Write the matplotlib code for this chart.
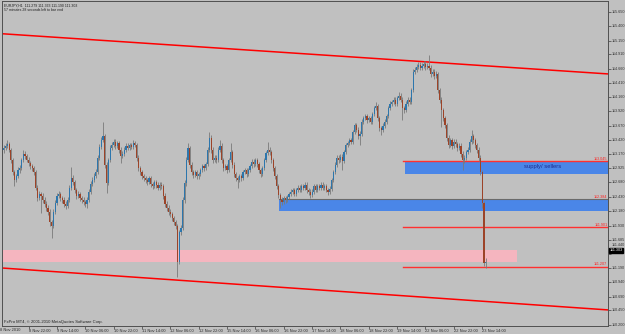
import numpy as np
import matplotlib.pyplot as plt
from matplotlib.patches import Rectangle

plt.rcParams['font.family'] = ['Liberation Sans', 'DejaVu Sans']

# EURJPY H1 bars, 8 Nov - 23 Nov 2010
closes = [113.28, 113.32, 113.35, 113.25, 113.07, 112.86, 112.72, 112.79, 112.90, 112.93,
          113.07, 113.18, 113.14, 113.07, 113.02, 112.97, 112.93, 112.86, 112.59, 112.41,
          112.48, 112.45, 112.38, 112.31, 112.24, 112.17, 111.99, 111.92, 112.17, 112.32,
          112.45, 112.48, 112.41, 112.38, 112.31, 112.27, 112.38, 112.59, 112.76, 112.69,
          112.55, 112.45, 112.48, 112.41, 112.38, 112.34, 112.31, 112.38, 112.52, 112.65,
          112.72, 112.79, 112.86, 113.11, 113.30, 113.42, 113.49, 112.99, 112.67, 113.07,
          113.28, 113.33, 113.39, 113.32, 113.37, 113.25, 113.14, 113.18, 113.25, 113.32,
          113.28, 113.33, 113.30, 113.37, 113.33, 113.11, 112.93, 112.86, 112.79, 112.76,
          112.72, 112.69, 112.76, 112.65, 112.62, 112.69, 112.64, 112.59, 112.64, 112.62,
          112.45, 112.31, 112.24, 112.17, 112.13, 112.06, 111.99, 111.92, 111.30, 111.82,
          111.89, 112.38, 112.67, 113.07, 113.28, 112.99, 112.86, 112.81, 112.86, 112.79,
          112.83, 112.90, 112.97, 112.93, 113.00, 113.25, 113.46, 113.25, 113.07, 113.11,
          113.07, 113.25, 113.32, 113.07, 112.93, 112.97, 112.90, 113.07, 113.21, 112.99,
          112.83, 112.76, 112.72, 112.79, 112.76, 112.86, 112.90, 112.83, 112.90, 112.97,
          113.04, 113.00, 113.07, 113.00, 112.90, 112.83, 112.93, 113.07, 113.19, 113.25,
          113.21, 113.07, 112.93, 112.79, 112.62, 112.46, 112.38, 112.34, 112.41, 112.38,
          112.43, 112.48, 112.52, 112.55, 112.48, 112.55, 112.59, 112.55, 112.62, 112.59,
          112.64, 112.55, 112.52, 112.46, 112.52, 112.62, 112.55, 112.62, 112.59, 112.64,
          112.59, 112.62, 112.55, 112.52, 112.57, 112.72, 112.86, 112.99, 113.11, 113.07,
          113.13, 113.06, 113.21, 113.33, 113.37, 113.42, 113.39, 113.56, 113.68, 113.60,
          113.49, 113.53, 113.74, 113.80, 113.84, 113.77, 113.80, 113.74, 113.87, 113.98,
          114.01, 113.80, 113.63, 113.60, 113.67, 113.74, 113.84, 113.98, 114.05, 114.08,
          114.12, 114.05, 114.15, 114.19, 114.12, 113.98, 113.94, 114.05, 114.12, 114.08,
          114.29, 114.61, 114.64, 114.69, 114.73, 114.68, 114.71, 114.75, 114.69, 114.71,
          114.68, 114.57, 114.61, 114.54, 114.57, 114.29, 114.12, 113.94, 113.80, 113.68,
          113.46, 113.33, 113.42, 113.32, 113.39, 113.35, 113.28, 113.32, 113.18, 113.07,
          113.11, 113.21, 113.25, 113.39, 113.49, 113.42, 113.33, 113.25, 113.11, 112.86,
          112.32, 111.28, 111.30]

highs = [113.33, 113.37, 113.42, 113.39, 113.28, 113.10, 112.90, 112.83, 112.95, 112.99,
         113.11, 113.25, 113.22, 113.18, 113.12, 113.06, 113.01, 112.97, 112.89, 112.63,
         112.53, 112.52, 112.49, 112.42, 112.35, 112.28, 112.21, 112.03, 112.21, 112.37,
         112.50, 112.53, 112.52, 112.45, 112.42, 112.35, 112.42, 112.63, 112.95, 112.81,
         112.73, 112.59, 112.53, 112.52, 112.45, 112.42, 112.38, 112.42, 112.56, 112.70,
         112.77, 112.84, 112.91, 113.15, 113.35, 113.47, 113.73, 113.53, 113.03, 113.11,
         113.33, 113.38, 113.44, 113.43, 113.41, 113.40, 113.29, 113.22, 113.29, 113.36,
         113.36, 113.37, 113.37, 113.42, 113.41, 113.37, 113.15, 112.97, 112.90, 112.83,
         112.80, 112.76, 112.80, 112.80, 112.69, 112.73, 112.73, 112.68, 112.68, 112.68,
         112.66, 112.49, 112.35, 112.28, 112.21, 112.17, 112.10, 112.03, 111.96, 111.86,
         111.94, 112.43, 112.72, 113.12, 113.37, 113.32, 113.03, 112.90, 112.90, 112.90,
         112.87, 112.94, 113.01, 113.01, 113.04, 113.29, 113.56, 113.50, 113.29, 113.15,
         113.15, 113.29, 113.42, 113.36, 113.11, 113.01, 113.01, 113.11, 113.37, 113.25,
         113.03, 112.87, 112.80, 112.83, 112.83, 112.90, 112.94, 112.94, 112.94, 113.01,
         113.08, 113.08, 113.11, 113.11, 113.04, 112.94, 112.97, 113.11, 113.23, 113.39,
         113.29, 113.25, 113.11, 112.97, 112.83, 112.66, 112.50, 112.42, 112.45, 112.45,
         112.47, 112.52, 112.56, 112.59, 112.59, 112.59, 112.63, 112.63, 112.66, 112.66,
         112.68, 112.68, 112.59, 112.56, 112.56, 112.66, 112.66, 112.66, 112.66, 112.68,
         112.68, 112.66, 112.66, 112.59, 112.61, 112.76, 112.90, 113.03, 113.15, 113.15,
         113.17, 113.17, 113.25, 113.37, 113.41, 113.46, 113.46, 113.60, 113.72, 113.72,
         113.64, 113.57, 113.78, 113.84, 113.88, 113.88, 113.84, 113.84, 113.91, 114.02,
         114.08, 114.05, 113.84, 113.67, 113.71, 113.78, 113.88, 114.02, 114.09, 114.12,
         114.16, 114.16, 114.19, 114.26, 114.23, 114.16, 114.02, 114.09, 114.16, 114.16,
         114.33, 114.66, 114.69, 114.74, 114.78, 114.78, 114.76, 114.80, 114.79, 114.76,
         114.90, 114.72, 114.66, 114.65, 114.62, 114.61, 114.33, 114.16, 113.98, 113.84,
         113.72, 113.50, 113.46, 113.46, 113.43, 113.43, 113.39, 113.36, 113.36, 113.22,
         113.15, 113.25, 113.29, 113.43, 113.60, 113.53, 113.46, 113.37, 113.29, 113.15,
         112.90, 112.36, 111.36]

lows = [113.20, 113.24, 113.28, 113.21, 113.02, 112.81, 112.62, 112.68, 112.75, 112.85,
        112.90, 113.04, 113.09, 113.03, 112.97, 112.92, 112.88, 112.81, 112.54, 112.35,
        112.37, 112.15, 112.33, 112.26, 112.19, 112.12, 111.93, 111.71, 111.88, 112.13,
        112.28, 112.41, 112.36, 112.33, 112.26, 112.22, 112.23, 112.34, 112.55, 112.64,
        112.50, 112.40, 112.41, 112.36, 112.33, 112.29, 112.26, 112.24, 112.34, 112.48,
        112.61, 112.68, 112.75, 112.82, 113.07, 113.26, 113.38, 112.94, 112.50, 112.63,
        113.03, 113.24, 113.29, 113.27, 113.28, 113.20, 113.02, 113.10, 113.14, 113.21,
        113.24, 113.24, 113.26, 113.26, 113.29, 113.06, 112.88, 112.81, 112.74, 112.71,
        112.67, 112.64, 112.65, 112.60, 112.57, 112.58, 112.59, 112.54, 112.55, 112.57,
        112.40, 112.26, 112.19, 112.12, 112.08, 112.01, 111.94, 111.87, 111.03, 111.26,
        111.77, 111.85, 112.33, 112.62, 113.03, 112.94, 112.81, 112.76, 112.77, 112.74,
        112.74, 112.79, 112.86, 112.88, 112.89, 112.96, 113.21, 113.20, 113.02, 113.03,
        113.02, 113.03, 113.21, 113.02, 112.88, 112.89, 112.85, 112.86, 113.03, 112.94,
        112.78, 112.71, 112.59, 112.68, 112.71, 112.72, 112.82, 112.78, 112.79, 112.86,
        112.93, 112.95, 112.96, 112.95, 112.85, 112.78, 112.79, 112.89, 113.03, 113.15,
        113.16, 113.02, 112.88, 112.74, 112.57, 112.41, 112.24, 112.29, 112.30, 112.33,
        112.34, 112.39, 112.44, 112.48, 112.44, 112.44, 112.51, 112.51, 112.51, 112.55,
        112.55, 112.50, 112.47, 112.41, 112.42, 112.48, 112.51, 112.51, 112.55, 112.55,
        112.55, 112.55, 112.51, 112.47, 112.48, 112.53, 112.68, 112.82, 112.95, 113.02,
        113.03, 112.90, 113.02, 113.17, 113.29, 113.33, 113.35, 113.35, 113.52, 113.55,
        113.44, 113.33, 113.49, 113.70, 113.76, 113.72, 113.73, 113.69, 113.70, 113.83,
        113.94, 113.75, 113.58, 113.51, 113.56, 113.63, 113.70, 113.80, 113.94, 114.01,
        114.04, 114.01, 114.01, 114.11, 114.08, 113.77, 113.89, 113.90, 114.01, 114.04,
        114.04, 114.25, 114.57, 114.60, 114.65, 114.63, 114.64, 114.67, 114.64, 114.65,
        114.63, 114.52, 114.53, 114.49, 114.50, 114.24, 114.07, 113.65, 113.75, 113.63,
        113.41, 113.28, 113.29, 113.27, 113.28, 113.30, 113.23, 113.24, 113.13, 112.90,
        113.02, 113.07, 113.17, 113.21, 113.35, 113.37, 113.28, 113.20, 113.06, 112.81,
        112.24, 111.22, 111.19]

first_open = 113.25
opens = [first_open] + closes[:-1]   # FX bars open where the previous one closed

xtick_bars = [14, 30, 46, 62, 78, 94, 110, 126, 142, 158, 174, 190, 206, 222, 238, 254, 270]
xtick_labels = ['8 Nov 22:00', '9 Nov 14:00', '10 Nov 06:00', '10 Nov 22:00', '11 Nov 14:00',
                '12 Nov 06:00', '12 Nov 22:00', '15 Nov 14:00', '16 Nov 06:00', '16 Nov 22:00',
                '17 Nov 14:00', '18 Nov 06:00', '18 Nov 22:00', '19 Nov 14:00', '22 Nov 06:00',
                '22 Nov 22:00', '23 Nov 14:00']
ytick_vals = [115.650, 115.400, 115.150, 114.910, 114.660, 114.410, 114.160, 113.920,
              113.670, 113.420, 113.170, 112.925, 112.680, 112.430, 112.180, 111.930,
              111.685, 111.440, 111.190, 110.940, 110.690, 110.450, 110.200]

# drawn objects (bar index, price)
upper_channel = ([-1, 341], [115.27, 114.57])
lower_channel = ([-1, 341], [111.19, 110.46])
hlines_red = [113.045, 111.901, 111.207]
hline_gray = 112.384
supply_zone = (226.4, 112.83, 113.045)
demand_zone = (155.3, 112.19, 112.384)
pink_zone = (-1, 289.6, 111.30, 111.505)

bg = '#c0c0c0'
fig = plt.figure(figsize=(6.25, 3.34), dpi=100, facecolor=bg)
ax = fig.add_axes([2/625, 8/334, 606/625, 325/334], facecolor=bg)
ax.set_xlim(-1, 341)
ax.set_ylim(110.18, 115.84)

# zones behind the candles
ax.add_patch(Rectangle((pink_zone[0], pink_zone[2]), pink_zone[1] - pink_zone[0],
                       pink_zone[3] - pink_zone[2], color='#f5b5bf', lw=0, zorder=1))
ax.add_patch(Rectangle((supply_zone[0], supply_zone[1]), 341 - supply_zone[0],
                       supply_zone[2] - supply_zone[1], color='#4a86e8', lw=0, zorder=1))
ax.add_patch(Rectangle((demand_zone[0], demand_zone[1]), 341 - demand_zone[0],
                       demand_zone[2] - demand_zone[1], color='#4a86e8', lw=0, zorder=1))
ax.plot([demand_zone[0], 341], [hline_gray, hline_gray], color='#6a6a6a', lw=0.8, zorder=2)
for p in hlines_red:
    ax.plot([225.3, 341], [p, p], color='#ff3030', lw=1.0, zorder=2)

ax.plot(*upper_channel, color='#ff0000', lw=1.1, zorder=2)
ax.plot(*lower_channel, color='#ff0000', lw=1.1, zorder=2)

# candles
o = np.array(opens)
c = np.array(closes)
x = np.arange(len(c))
up = c >= o
ax.vlines(x, lows, highs, color='#7a7a7a', lw=0.6, zorder=3)
ax.bar(x[up], (c - o)[up], bottom=o[up], width=0.65, color='#2c76ad', lw=0, zorder=4)
ax.bar(x[~up], (c - o)[~up], bottom=o[~up], width=0.65, color='#9c4328', lw=0, zorder=4)

# labels on objects
ax.text(304.3, 112.95, 'supply/ sellers', color='#1c2c90', fontsize=4.2,
        ha='center', va='center', zorder=5)
for p in hlines_red + [hline_gray]:
    ax.text(340.6, p + 0.01, '%.3f' % p, color='#ff2020', fontsize=2.7,
            ha='right', va='bottom', zorder=5)

# axes styling
for s in ax.spines.values():
    s.set_color('#505050')
    s.set_linewidth(0.7)
ax.yaxis.tick_right()
ax.set_yticks(ytick_vals)
ax.set_yticklabels([])
ax.tick_params(axis='y', length=2, width=0.5, color='#404040')
ytrans = ax.get_yaxis_transform()
for v in ytick_vals:
    yv = v + 0.15 if v == 111.440 else v
    ax.text(1.006, yv, '%.3f' % v, transform=ytrans, ha='left', va='center',
            fontsize=2.7, color='#303030')
ax.text(1.002, 111.50, '111.303', transform=ytrans, ha='left', va='center',
        fontsize=2.7, color='white',
        bbox=dict(facecolor='black', edgecolor='black', pad=0.4))

ax.set_xticks(xtick_bars)
ax.set_xticklabels(xtick_labels, ha='left', fontsize=2.9, color='#303030')
ax.tick_params(axis='x', length=2, width=0.5, pad=0.4, color='#404040')
fig.text(0.5/625, 4/334, '8 Nov 2010', fontsize=2.9, color='#303030', va='center')

ax.text(0.003, 0.993, 'EURJPY,H1  111.279 111.363 111.190 111.303', transform=ax.transAxes,
        fontsize=2.5, color='#202020', va='top')
ax.text(0.003, 0.977, '57 minutes 28 seconds left to bar end', transform=ax.transAxes,
        fontsize=2.5, color='#202020', va='top')
ax.text(0.003, 0.006, 'FxPro MT4, \u00a9 2001-2010 MetaQuotes Software Corp.',
        transform=ax.transAxes, fontsize=3.0, color='#202020', va='bottom')

fig.savefig('out.png', dpi=100, facecolor=bg)
